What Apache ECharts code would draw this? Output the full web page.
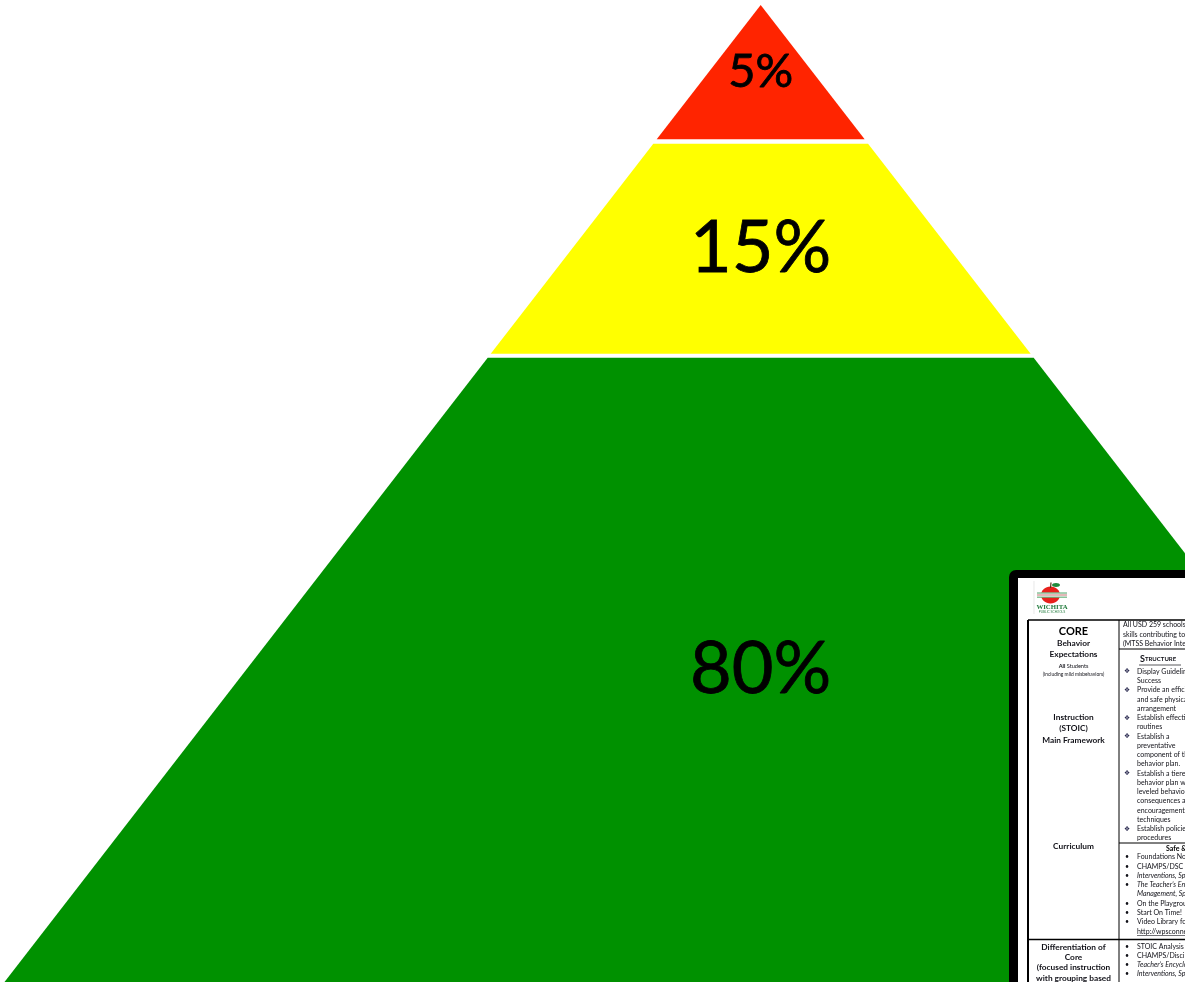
<!DOCTYPE html>
<html><head><meta charset="utf-8">
<script src="https://cdn.jsdelivr.net/npm/echarts@6/dist/echarts.min.js"></script>
<style>html,body{margin:0;padding:0;background:#fff;overflow:hidden}#c{width:1185px;height:982px}</style>
</head><body><div id="c"></div>
<script>
// ---- data ----
const tierNames = ['5%', '15%', '80%'];
const tierShares = [5, 15, 80];
// depth of each tier, in % of the drawn pyramid height from the apex
const tierTop = [0, 14.2, 36.1];
const tierBottom = [13.75, 35.7, 100];

// ---- style ----
const tierColors = ['#FF2400', '#FFFF00', '#009100'];
const tierFont = [47, 72, 72];
const SLOPE = 0.774; // half-width per unit depth

const chart = echarts.init(document.getElementById('c'), null, {renderer: 'canvas'});

const seriesData = tierNames.map((n, i) => ({name: n, value: [tierShares[i], tierTop[i], tierBottom[i]]}));

function renderItem(params, api) {
  const i = params.dataIndex;
  const t = api.value(1), b = api.value(2);
  const pts = [[-SLOPE * t, t], [SLOPE * t, t], [SLOPE * b, b], [-SLOPE * b, b]].map(p => api.coord(p));
  const mid = api.coord([0, (t + b) / 2]);
  return {
    type: 'group',
    children: [
      {type: 'polygon', shape: {points: pts}, style: {fill: tierColors[i], stroke: null}},
      {type: 'text', style: {text: tierNames[i], x: mid[0], y: mid[1], align: 'center', verticalAlign: 'middle',
        textAlign: 'center', textVerticalAlign: 'middle',
        font: tierFont[i] + 'px Lato, "Open Sans", sans-serif', fill: '#000',
        stroke: '#000', lineWidth: 0.8}}
    ]
  };
}

// ---- inset (picture of the behaviour document) ----
const G = [];
const Z = 100;
const TXT = '#111118';
function line(x1, y1, x2, y2, w, c) {
  G.push({type: 'line', z: Z + 2, shape: {x1, y1, x2, y2}, style: {stroke: c || '#000', lineWidth: w || 1}});
}
function text(s, x, y, font, align, fill, rich) {
  const st = {text: s, x, y, font, fill: fill || TXT, align: align || 'left', verticalAlign: 'middle',
    textAlign: align || 'left', textVerticalAlign: 'middle'};
  if (rich) st.rich = rich;
  G.push({type: 'text', z: Z + 3, style: st});
}
// frame
G.push({type: 'rect', z: Z, shape: {x: 1009, y: 570, width: 200, height: 430, r: [7, 0, 0, 0]}, style: {fill: '#000'}});
G.push({type: 'rect', z: Z + 1, shape: {x: 1018, y: 578, width: 190, height: 420}, style: {fill: '#fff'}});
// logo
line(1034, 581, 1034, 614, 0.6, '#d8d8d8');
G.push({type: 'ellipse', z: Z + 2, shape: {cx: 1050.5, cy: 595, rx: 9.5, ry: 8.5}, style: {fill: '#e8201c'}});
G.push({type: 'ellipse', z: Z + 2, shape: {cx: 1056, cy: 585, rx: 4, ry: 2}, style: {fill: '#1f8a3c'}});
line(1051, 582.5, 1050.5, 588, 1.2, '#5a3a1a');
G.push({type: 'rect', z: Z + 2, shape: {x: 1037, y: 592.5, width: 30, height: 5}, style: {fill: '#f2f2f2'}});
line(1037, 593, 1067, 593, 0.8, '#2e9a4e');
line(1037, 595, 1067, 595, 0.6, '#c03030');
line(1037, 597.2, 1067, 597.2, 0.8, '#2e9a4e');
text('WICHITA', 1052, 607, 'bold 6.8px "Liberation Serif", serif', 'center', '#1f7a3a');
text('PUBLIC SCHOOLS', 1052, 612, '3px "Liberation Sans", sans-serif', 'center', '#1f7a3a');
// table lines
line(1028, 620, 1190, 620, 1.3);
line(1028, 620, 1028, 990, 2);
line(1119, 620, 1119, 990, 1);
line(1119, 649, 1190, 649, 1);
line(1119, 843, 1190, 843, 1);
line(1028, 939.5, 1190, 939.5, 1.3);
// left column
const LC = 1073.5;
const LF = '"Lato", "Open Sans", sans-serif';
text('CORE', LC, 631, 'bold 11px ' + LF, 'center', '#000');
text('Behavior', LC, 643, 'bold 8.3px ' + LF, 'center');
text('Expectations', LC, 654.5, 'bold 8.3px ' + LF, 'center');
text('{b|All} Students', LC, 666, '5.6px ' + LF, 'center', TXT, {b: {font: 'bold 5.6px ' + LF, fill: TXT}});
text('(including mild misbehaviors)', LC, 674, '4.9px ' + LF, 'center');
text('Instruction', LC, 717, 'bold 8.3px ' + LF, 'center');
text('(STOIC)', LC, 728.5, 'bold 8.3px ' + LF, 'center');
text('Main Framework', LC, 740, 'bold 8.3px ' + LF, 'center');
text('Curriculum', LC, 846, 'bold 8.3px ' + LF, 'center');
text('Differentiation of', LC, 947, 'bold 8.3px ' + LF, 'center');
text('Core', LC, 957, 'bold 8.3px ' + LF, 'center');
text('(focused instruction', LC, 967.5, 'bold 8.3px ' + LF, 'center');
text('with grouping based', LC, 978.5, 'bold 8.3px ' + LF, 'center');
// right column
const RF = '7px ' + LF;
const RI = 'italic 7px ' + LF;
text('All USD 259 schools will implement', 1123, 625, RF);
text('skills contributing to student success', 1123, 634.5, RF);
text('(MTSS Behavior Integration)', 1123, 644, RF);
text('{s|S}TRUCTURE', 1140, 659.5, 'bold 6px ' + LF, 'left', TXT, {s: {font: 'bold 9px ' + LF, fill: TXT}});
line(1139, 665, 1181, 665, 0.7, TXT);
const structLines = [
  ['d', 'Display Guidelines for'], ['c', 'Success'], ['d', 'Provide an efficient'], ['c', 'and safe physical'],
  ['c', 'arrangement'], ['d', 'Establish effective'], ['c', 'routines'], ['d', 'Establish a'],
  ['c', 'preventative'], ['c', 'component of the'], ['c', 'behavior plan.'], ['d', 'Establish a tiered'],
  ['c', 'behavior plan with'], ['c', 'leveled behavioral'], ['c', 'consequences and'], ['c', 'encouragement'],
  ['c', 'techniques'], ['d', 'Establish policies and'], ['c', 'procedures']
];
structLines.forEach((l, i) => {
  const y = 671.5 + 9.25 * i;
  if (l[0] === 'd') text('\u2756', 1124, y, '6.8px "DejaVu Sans", sans-serif', 'left', '#2a2a50');
  text(l[1], 1137, y, RF);
});
text('Safe & Civil', 1166, 848.5, 'bold 7px ' + LF, 'left', '#000');
const safeLines = [
  ['b', 'Foundations Notebook', RF], ['b', 'CHAMPS/DSC', RF], ['b', 'Interventions, Sprick', RI],
  ['b', 'The Teacher\u2019s Encyclopedia', RI], ['c', 'Management, Sprick', RI], ['b', 'On the Playground', RF],
  ['b', 'Start On Time!', RF], ['b', 'Video Library for', RF], ['c', 'http://wpsconnect', RF]
];
safeLines.forEach((l, i) => {
  const y = 857 + 9.3 * i;
  if (l[0] === 'b') text('\u2022', 1125, y, '7px ' + LF, 'left', TXT);
  text(l[1], 1137, y, l[2]);
});
line(1137, 935.5, 1190, 935.5, 0.6, TXT);
const diffLines = [
  ['STOIC Analysis', RF], ['CHAMPS/Discipline', RF], ['Teacher\u2019s Encyclopedia', RI], ['Interventions, Sprick', RI]
];
diffLines.forEach((l, i) => {
  const y = 947 + 9 * i;
  text('\u2022', 1125, y, '7px ' + LF, 'left', TXT);
  text(l[0], 1137, y, l[1]);
});

chart.setOption({
  animation: false,
  backgroundColor: '#fff',
  grid: {left: 0, right: 0, top: 5, bottom: 0},
  xAxis: {type: 'value', min: -77.86, max: 43.43, show: false},
  yAxis: {type: 'value', min: 0, max: 100, inverse: true, show: false},
  series: [{type: 'custom', renderItem, data: seriesData, clip: false, encode: {x: 0, y: [1, 2]}, z: 2}],
  graphic: {elements: G}
});
</script>
</body></html>
